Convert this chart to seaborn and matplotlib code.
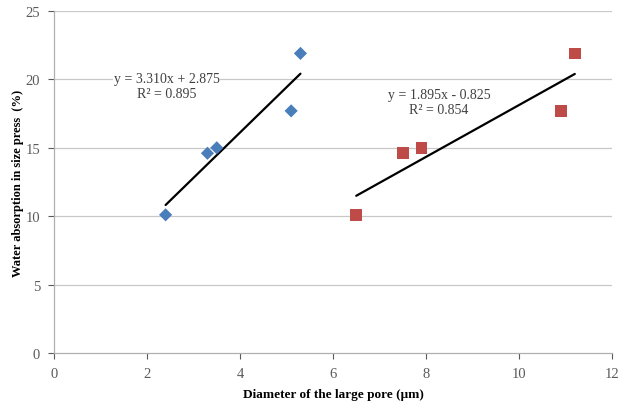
import matplotlib
matplotlib.use("Agg")
import matplotlib.pyplot as plt
import seaborn as sns
import numpy as np
import pandas as pd

# Data
blue_x = [2.4, 3.3, 3.5, 5.1, 5.3]
blue_y = [10.1, 14.6, 15.0, 17.7, 21.9]
red_x = [6.5, 7.5, 7.9, 10.9, 11.2]
red_y = [10.1, 14.6, 15.0, 17.7, 21.9]
blue_fit = (3.310, 2.875)
red_fit = (1.895, -0.825)
blue_eq = ["y = 3.310x + 2.875", "R² = 0.895"]
red_eq = ["y = 1.895x - 0.825", "R² = 0.854"]
x_ticks = [0, 2, 4, 6, 8, 10, 12]
y_ticks = [0, 5, 10, 15, 20, 25]

sns.set_theme(style="white")
plt.rcParams['font.family'] = ['Liberation Serif', 'DejaVu Serif']

fig = plt.figure(figsize=(6.21, 4.06), dpi=100)
ax = fig.add_axes([54/621, 1-354/406, (612-54)/621, (354-12)/406])

dfb = pd.DataFrame({"x": blue_x, "y": blue_y})
dfr = pd.DataFrame({"x": red_x, "y": red_y})

for yv in y_ticks[1:]:
    ax.axhline(yv, color="#c8c8c8", lw=0.9, zorder=0)

sns.scatterplot(data=dfb, x="x", y="y", marker="D", s=45, color="#4A7EBB",
                edgecolor="none", ax=ax, zorder=3)
sns.scatterplot(data=dfr, x="x", y="y", marker="s", s=70, color="#BE4B48",
                edgecolor="none", ax=ax, zorder=3)

bx = np.array([min(blue_x), max(blue_x)])
rx = np.array([min(red_x), max(red_x)])
sns.lineplot(x=bx, y=blue_fit[0]*bx + blue_fit[1], color="black", lw=1.6, ax=ax, zorder=2)
sns.lineplot(x=rx, y=red_fit[0]*rx + red_fit[1], color="black", lw=1.6, ax=ax, zorder=2)

ax.text(2.42, 20.1, blue_eq[0], ha="center", va="center", fontsize=10, color="#404040",
        bbox=dict(facecolor="white", edgecolor="none", pad=0.5), zorder=4)
ax.text(2.42, 19.0, blue_eq[1], ha="center", va="center", fontsize=10, color="#404040", zorder=4)
ax.text(8.28, 18.9, red_eq[0], ha="center", va="center", fontsize=10, color="#404040", zorder=4)
ax.text(8.28, 17.8, red_eq[1], ha="center", va="center", fontsize=10, color="#404040", zorder=4)

ax.set_xlim(0, 12)
ax.set_ylim(0, 25)
ax.set_xticks(x_ticks)
ax.set_yticks(y_ticks)
ax.tick_params(axis="both", labelsize=10.5, colors="#5a5a5a", length=4, width=0.8,
               direction="out", bottom=True, left=True)
ax.tick_params(axis="x", pad=6)
ax.tick_params(axis="y", pad=6)
for s in ["top", "right"]:
    ax.spines[s].set_visible(False)
for s in ["left", "bottom"]:
    ax.spines[s].set_color("#b0b0b0")
    ax.spines[s].set_linewidth(0.9)

ax.set_xlabel("Diameter of the large pore (μm)", fontsize=9.5, fontweight="bold", color="black")
ax.set_ylabel("Water absorption in size press  (%)", fontsize=9, fontweight="bold", color="black")
ax.xaxis.set_label_coords((333-54)/558, -(395-354)/342, transform=ax.transAxes)
ax.yaxis.set_label_coords(-(54-18)/558, (354-183)/342, transform=ax.transAxes)
ax.xaxis.label.set_va("center")
ax.yaxis.label.set_va("center")

fig.savefig("out.png", dpi=100)
